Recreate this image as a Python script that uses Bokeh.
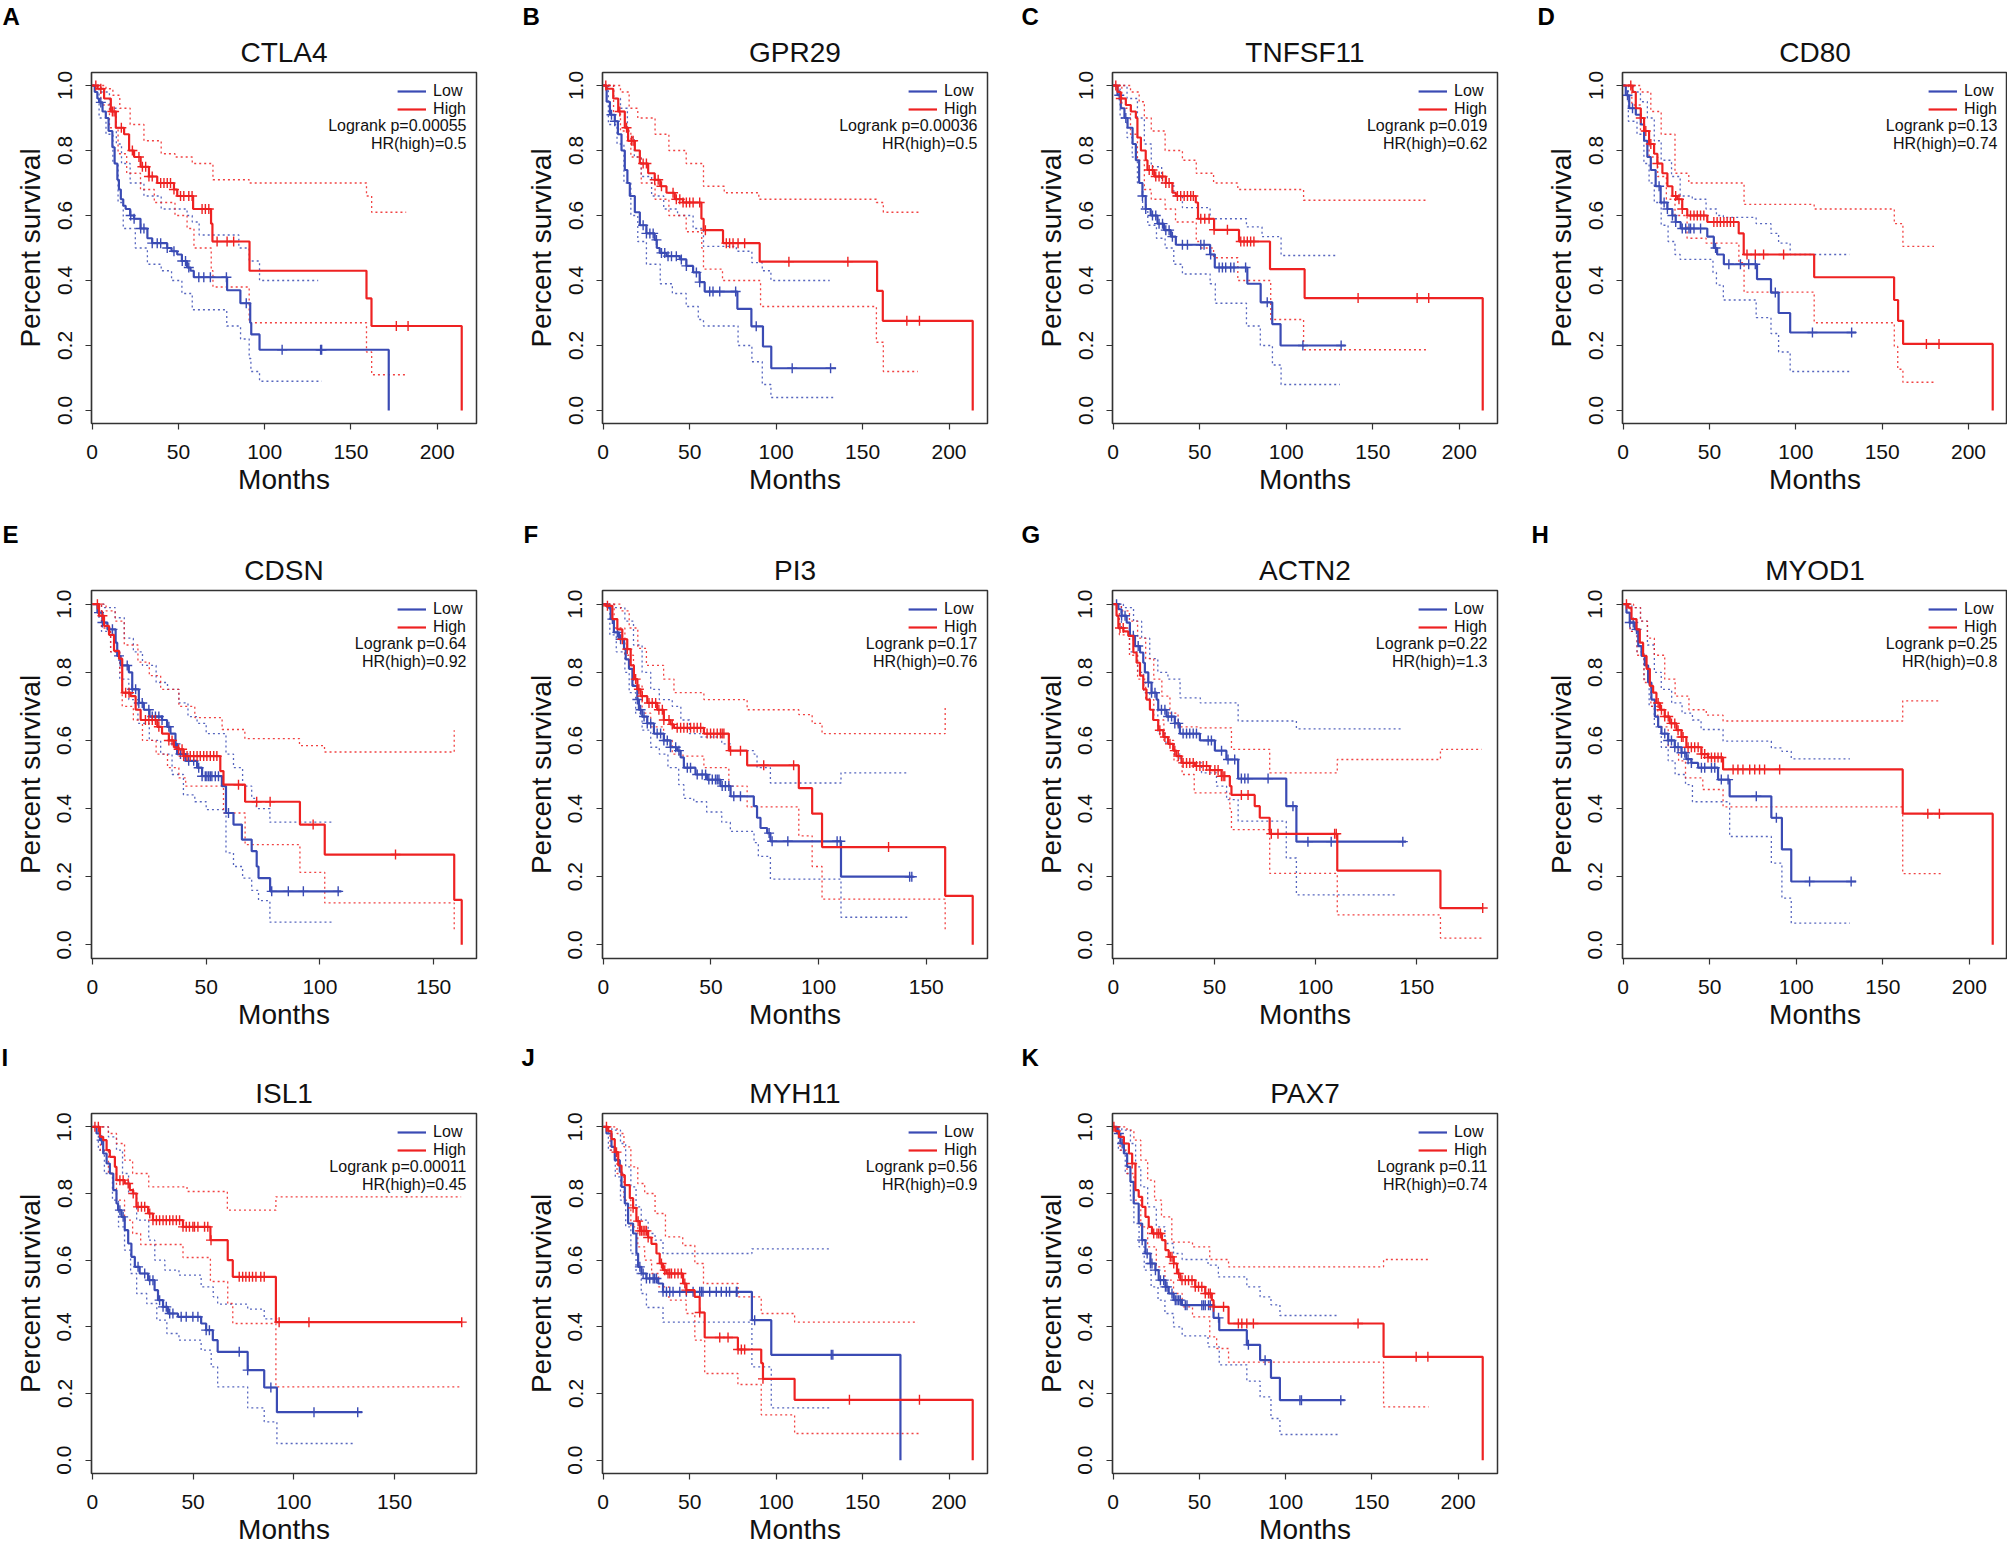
from bokeh.plotting import figure
from bokeh.layouts import column, row
from bokeh.models import Range1d, FixedTicker, PrintfTickFormatter, Label, Legend, LegendItem, Title
from bokeh.embed import file_html
from bokeh.resources import INLINE

# ---------------- data (months, survival) ----------------
LETTERS = ["A", "B", "C", "D", "E", "F", "G", "H", "I", "J", "K"]
GENES = ["CTLA4", "GPR29", "TNFSF11", "CD80", "CDSN", "PI3", "ACTN2", "MYOD1", "ISL1", "MYH11", "PAX7"]
LOGRANK_P = ["0.00055", "0.00036", "0.019", "0.13", "0.64", "0.17", "0.22", "0.25", "0.00011", "0.56", "0.11"]
HR_HIGH = ["0.5", "0.5", "0.62", "0.74", "0.92", "0.76", "1.3", "0.8", "0.45", "0.9", "0.74"]
X_TICKS = [0, 50, 100, 150, 200]
Y_TICKS = [0.0, 0.2, 0.4, 0.6, 0.8, 1.0]

# A CTLA4
CTLA4_low = [(0,1.0),(1.5,0.98),(3,0.96),(4,0.948),(6,0.92),(7.9,0.90),(9.5,0.86),(11.7,0.81),(13,0.76),(14.6,0.71),(15.5,0.68),(16.6,0.65),(18,0.63),(19.4,0.62),(22,0.60),(24.3,0.59),(28,0.56),(32,0.53),(34.8,0.515),(43.5,0.50),(46,0.49),(49.3,0.48),(52,0.46),(55,0.44),(57,0.43),(58.9,0.41),(78.2,0.37),(85.9,0.33),(91.6,0.27),(92.2,0.234),(97,0.187),(171.9,0.0)]
CTLA4_low_cens = [5, 22.3, 24.3, 28.1, 30, 34.8, 37.7, 39.7, 43.5, 47.4, 52.2, 54.1, 56, 61.8, 64.7, 68.5, 77.8, 89.3, 110.1, 132.4, 133]
CTLA4_high = [(0,1.0),(3.1,0.99),(6.9,0.96),(10.8,0.92),(13.7,0.87),(18.5,0.85),(21.4,0.80),(24.3,0.78),(28.1,0.75),(32.9,0.72),(37.7,0.70),(47.4,0.68),(49.3,0.66),(58.5,0.62),(68.9,0.575),(69.7,0.52),(91.2,0.43),(159,0.345),(161.9,0.26),(214.2,0.0)]
CTLA4_high_cens = [2.1, 5, 11.7, 12.7, 16.9, 23.3, 27.1, 29.1, 31, 32.9, 34.8, 39.7, 41.6, 43.5, 45.4, 47.4, 51.2, 53.1, 56, 57.9, 63.7, 65.6, 67.6, 72.4, 78.2, 82, 176.3, 183.1]
CTLA4_low_upper = [(0,1),(5,0.98),(10,0.93),(14,0.82),(17,0.76),(22,0.70),(30,0.66),(40,0.62),(55,0.60),(58,0.58),(62,0.54),(85,0.50),(91,0.46),(97,0.40),(131,0.40)]
CTLA4_low_lower = [(0,1),(4,0.90),(8,0.85),(12,0.76),(15,0.64),(18,0.56),(25,0.50),(32,0.45),(40,0.43),(46,0.40),(52,0.36),(58,0.31),(78,0.26),(86,0.22),(91,0.16),(92,0.12),(97,0.09),(133,0.09)]
CTLA4_high_upper = [(0,1),(8,0.99),(12,0.97),(16,0.93),(22,0.88),(30,0.83),(40,0.79),(48,0.78),(58,0.76),(70,0.71),(91,0.70),(159,0.66),(162,0.61),(182,0.61)]
CTLA4_high_lower = [(0,1),(5,0.94),(10,0.87),(15,0.79),(20,0.73),(28,0.68),(36,0.64),(48,0.60),(55,0.56),(59,0.50),(69,0.43),(70,0.38),(91,0.27),(159,0.18),(162,0.11),(183,0.11)]

# B GPR29
GPR29_low = [(0,1),(2,0.95),(3.9,0.91),(6.7,0.89),(8.5,0.85),(10.6,0.80),(12.5,0.74),(14,0.70),(15.4,0.66),(18.3,0.61),(21.2,0.57),(25,0.545),(29.8,0.525),(31,0.50),(32.7,0.485),(36.6,0.475),(44.3,0.465),(48.1,0.445),(52,0.425),(55.8,0.395),(58.7,0.366),(77.6,0.313),(85.7,0.259),(92.4,0.197),(97.2,0.13),(134.7,0.13)]
GPR29_low_cens = [4.8, 6.7, 23.1, 25, 27, 28.9, 30.8, 33.7, 35.6, 37.5, 39.5, 42.3, 45.2, 48.1, 53.9, 55.8, 61.6, 63.5, 67.4, 76.6, 88.5, 109.3, 131.5]
GPR29_high = [(0,1),(1.9,0.99),(5.8,0.96),(8.7,0.92),(12.5,0.87),(14.4,0.83),(18.3,0.80),(21.2,0.76),(26,0.73),(29.8,0.71),(33,0.69),(36.6,0.67),(41.4,0.65),(46.2,0.64),(56.8,0.59),(58.1,0.555),(69.3,0.515),(90.5,0.458),(158.4,0.368),(161.7,0.276),(213.7,0.0)]
GPR29_high_cens = [1.5, 9.6, 13.5, 16.4, 17.3, 23.1, 25, 29.8, 31.8, 33.7, 40.4, 42.3, 44.3, 46.2, 48.1, 50, 52, 55.8, 59.1, 71.2, 73.1, 75.1, 78, 81.8, 107.4, 141.5, 175.6, 182.9]
GPR29_low_upper = [(0,1),(6,0.96),(10,0.93),(14,0.84),(18,0.78),(22,0.72),(28,0.66),(35,0.62),(43,0.60),(52,0.56),(58,0.505),(77,0.49),(86,0.455),(92,0.43),(97,0.40),(131,0.40)]
GPR29_low_lower = [(0,1),(3,0.88),(8,0.82),(12,0.70),(16,0.60),(20,0.52),(25,0.45),(33,0.39),(40,0.36),(48,0.32),(55,0.28),(58,0.26),(78,0.20),(86,0.15),(92,0.08),(97,0.04),(133,0.04)]
GPR29_high_upper = [(0,1),(10,0.98),(15,0.93),(20,0.90),(30,0.85),(38,0.80),(48,0.76),(58,0.69),(70,0.67),(90,0.65),(158,0.64),(162,0.61),(184,0.61)]
GPR29_high_lower = [(0,1),(6,0.92),(10,0.86),(16,0.78),(22,0.70),(30,0.65),(38,0.60),(48,0.55),(57,0.50),(58,0.435),(69,0.40),(91,0.32),(158,0.21),(162,0.12),(182,0.12)]

# C TNFSF11
TNFSF11_low = [(0,1),(2.5,0.97),(4.4,0.93),(6.5,0.90),(8.3,0.87),(11.2,0.82),(13.1,0.77),(15,0.70),(16.9,0.66),(18.8,0.62),(21.7,0.60),(25.6,0.575),(29.4,0.555),(33.3,0.535),(36.2,0.51),(56,0.48),(58.7,0.44),(77.5,0.39),(85.2,0.333),(91.9,0.266),(96.7,0.20),(134.2,0.20)]
TNFSF11_low_cens = [3.5, 7.3, 16.9, 18.8, 22.7, 24.6, 26.5, 28.5, 30.4, 32.3, 34.2, 40, 42.9, 50.6, 52.5, 56.3, 61.2, 63.1, 65, 67.9, 69.8, 76.5, 89, 109.6, 131.7]
TNFSF11_high = [(0,1),(2.5,0.98),(4.4,0.96),(7.3,0.94),(10.2,0.92),(13.1,0.90),(14,0.84),(16,0.80),(18.8,0.77),(19.8,0.74),(23.7,0.72),(30.4,0.70),(34.2,0.67),(36.2,0.66),(47.7,0.64),(49,0.59),(58.3,0.556),(72.7,0.52),(90.6,0.435),(110.6,0.346),(213.5,0.0)]
TNFSF11_high_cens = [1.5, 4.4, 20.8, 22.7, 24.6, 26.5, 28.5, 30.4, 32.3, 37.1, 39, 41, 42.9, 44.8, 46.3, 50.6, 52.9, 55.4, 58.3, 66, 73.7, 75.6, 77.5, 79.4, 81.3, 141.5, 175.6, 182.3]
TNFSF11_low_upper = [(0,1),(8,0.96),(14,0.90),(18,0.82),(22,0.75),(28,0.70),(35,0.66),(40,0.624),(56,0.59),(77,0.565),(86,0.535),(97,0.477),(130,0.477)]
TNFSF11_low_lower = [(0,1),(4,0.90),(8,0.84),(11,0.78),(14,0.70),(17,0.62),(20,0.57),(25,0.53),(30,0.50),(35,0.45),(40,0.42),(56,0.39),(59,0.33),(77,0.26),(85,0.20),(92,0.14),(97,0.08),(131,0.08)]
TNFSF11_high_upper = [(0,1),(10,0.98),(15,0.95),(18,0.90),(22,0.86),(30,0.80),(40,0.77),(48,0.73),(58,0.70),(72,0.68),(110,0.647),(182,0.647)]
TNFSF11_high_lower = [(0,1),(5,0.93),(10,0.85),(14,0.77),(18,0.68),(22,0.65),(30,0.62),(36,0.58),(48,0.52),(50,0.50),(58,0.47),(72,0.40),(91,0.28),(110,0.187),(182,0.187)]

# D CD80
CD80_low = [(0,1),(1.5,0.97),(3.5,0.93),(7.3,0.91),(10.2,0.88),(12.1,0.83),(14,0.78),(16,0.74),(18.8,0.69),(21.7,0.64),(25.6,0.62),(28.5,0.60),(30.4,0.58),(33.3,0.56),(48.7,0.535),(52.5,0.50),(54.4,0.48),(58.3,0.45),(77.5,0.404),(85.6,0.363),(90,0.30),(96.7,0.24),(134.8,0.24)]
CD80_low_cens = [2.5, 5.4, 20.8, 23.7, 25.6, 28.5, 30.4, 34.2, 36.2, 38.1, 39, 41, 44.8, 53.5, 61.2, 67.9, 72.7, 76.5, 88.1, 109.6, 132.3]
CD80_high = [(0,1),(5.4,0.98),(7.3,0.93),(10.2,0.90),(12.1,0.86),(15,0.82),(17.9,0.79),(19.8,0.76),(22.7,0.73),(25.6,0.69),(28.5,0.66),(31.3,0.65),(34.2,0.62),(37.1,0.60),(48.7,0.58),(66.9,0.545),(69.8,0.48),(110.6,0.41),(156.9,0.34),(159.2,0.276),(162.1,0.205),(214,0.0)]
CD80_high_cens = [4.4, 10.2, 13.1, 16, 19.8, 30.4, 32.3, 34.2, 39, 41, 42.9, 44.8, 46.7, 52.5, 54.4, 56.3, 58.3, 60.2, 62.1, 64, 71.7, 76.5, 81.3, 92.9, 175.6, 182.9]
CD80_low_upper = [(0,1),(6,0.98),(10,0.95),(14,0.90),(18,0.83),(22,0.77),(28,0.72),(33,0.66),(40,0.65),(48,0.62),(54,0.60),(58,0.594),(77,0.575),(85.6,0.545),(90,0.515),(96.7,0.48),(131,0.48)]
CD80_low_lower = [(0,1),(3,0.89),(8,0.85),(12,0.76),(15,0.70),(18,0.64),(22,0.57),(26,0.52),(30,0.48),(33,0.465),(52,0.425),(54,0.386),(58,0.34),(77,0.286),(85.6,0.237),(90,0.18),(96.7,0.12),(131,0.12)]
CD80_high_upper = [(0,1),(10,0.98),(16,0.92),(22,0.85),(30,0.73),(38,0.70),(70,0.634),(110.6,0.62),(157,0.575),(162,0.505),(180,0.505)]
CD80_high_lower = [(0,1),(5,0.94),(10,0.86),(15,0.78),(20,0.72),(25,0.65),(30,0.60),(37,0.53),(48,0.515),(67,0.455),(70,0.364),(110.6,0.27),(157,0.197),(159,0.127),(162,0.087),(181,0.087)]

# E CDSN
CDSN_low = [(0,1),(2.2,0.975),(4.4,0.946),(6.6,0.926),(10.2,0.887),(10.9,0.848),(12.4,0.82),(16,0.80),(17.5,0.75),(20.4,0.71),(22.6,0.69),(25.1,0.67),(30.6,0.66),(32.8,0.64),(34.3,0.62),(36.5,0.59),(37.2,0.56),(40.9,0.54),(46,0.52),(48.2,0.495),(56.9,0.466),(58.7,0.387),(62,0.353),(65.7,0.309),(70,0.275),(72.2,0.23),(73,0.196),(78.1,0.157),(109.4,0.157)]
CDSN_low_cens = [2.9, 4.4, 8.8, 11.7, 15.3, 17.5, 19, 20.4, 21.9, 24.8, 26.3, 27.7, 29.2, 30.6, 33.6, 36.5, 38.7, 40.1, 42.3, 44.5, 46.7, 48.2, 49.6, 50.3, 51.1, 51.8, 52.5, 54, 55.4, 59.8, 78.8, 86.1, 92.7, 108]
CDSN_high = [(0,1),(2.9,0.966),(5.1,0.936),(7.3,0.91),(9.5,0.863),(11.7,0.84),(13.1,0.74),(16.8,0.73),(19,0.69),(21.2,0.66),(28.5,0.64),(30.6,0.62),(33.6,0.60),(35.8,0.58),(37.9,0.574),(40.1,0.554),(56.2,0.51),(57.6,0.47),(67.1,0.42),(91.2,0.353),(102.1,0.265),(159,0.132),(162.3,0.0)]
CDSN_high_cens = [2.2, 4.4, 14.6, 16.1, 23.3, 24.8, 26.3, 27.7, 29.2, 33.6, 35, 37.9, 39.4, 40.1, 41.6, 43, 44.5, 46, 47.4, 48.9, 50.3, 51.8, 53.3, 54.7, 64.2, 72.2, 78.1, 97, 133.2]
CDSN_low_upper = [(0,1),(5,0.99),(10,0.96),(14,0.90),(18,0.86),(22,0.82),(28,0.77),(33,0.75),(38,0.71),(42,0.67),(46,0.65),(50,0.62),(58.7,0.56),(62,0.52),(66,0.466),(70,0.43),(72,0.40),(78,0.36),(106,0.36)]
CDSN_low_lower = [(0,1),(4,0.92),(8,0.86),(12,0.78),(16,0.72),(20,0.65),(25,0.60),(30,0.56),(35,0.50),(40,0.44),(45,0.42),(50,0.397),(58.7,0.27),(62,0.23),(66,0.196),(70,0.16),(73,0.13),(78,0.067),(106,0.067)]
CDSN_high_upper = [(0,1),(6,0.98),(10,0.95),(14,0.88),(20,0.83),(25,0.79),(30,0.75),(38,0.70),(45,0.667),(57,0.632),(67,0.605),(91,0.585),(102,0.566),(159,0.63)]
CDSN_high_lower = [(0,1),(4,0.93),(8,0.86),(12,0.80),(13.1,0.70),(18,0.66),(22,0.60),(28,0.56),(33,0.52),(38,0.49),(41,0.466),(57.6,0.387),(67.1,0.294),(91.2,0.213),(102.1,0.123),(159,0.04)]

# F PI3
PI3_low = [(0,1),(1.9,0.99),(3.4,0.956),(4.9,0.917),(7.3,0.897),(9.6,0.868),(10.4,0.838),(11.9,0.81),(13.5,0.76),(15.8,0.72),(16.5,0.69),(18.1,0.67),(20.4,0.65),(23.5,0.62),(28.1,0.60),(31.2,0.58),(34.3,0.57),(35.9,0.55),(37.4,0.52),(42.8,0.50),(48.2,0.485),(54.4,0.466),(59.1,0.436),(69.9,0.407),(71.4,0.373),(73,0.343),(76.1,0.328),(77.6,0.304),(110.4,0.20),(144.1,0.20)]
PI3_low_cens = [4.2, 6.5, 8, 15.8, 17.3, 18.9, 20.4, 22, 25, 26.6, 28.1, 29.7, 31.2, 33.6, 35.1, 39, 40.5, 43.6, 45.9, 47.5, 49, 50.6, 52.1, 52.9, 53.7, 55.2, 56.7, 58.3, 60.6, 63.7, 77, 78.4, 85.7, 108.6, 110.1, 142.3, 143.3]
PI3_high = [(0,1),(1.1,0.995),(4.2,0.956),(6.5,0.926),(8.8,0.897),(11.1,0.868),(12.7,0.82),(14.2,0.78),(15.8,0.75),(17.3,0.73),(20.4,0.71),(25,0.69),(28.1,0.66),(31.2,0.647),(32.8,0.637),(46.7,0.62),(58.3,0.57),(66.8,0.527),(90.8,0.46),(97,0.385),(101.6,0.287),(158.8,0.144),(171.6,0.0)]
PI3_high_cens = [1.9, 8.8, 11.1, 15, 16.5, 18.1, 21.2, 22.7, 24.3, 25.8, 27.4, 28.1, 30.5, 32, 34.3, 35.9, 37.4, 39, 40.5, 42.1, 43.6, 45.2, 48.2, 49.8, 51.3, 52.9, 54.4, 55.2, 56, 59.1, 63.7, 74.5, 88.4, 132.5]
PI3_low_upper = [(0,1),(5,0.99),(10,0.95),(14,0.88),(18,0.80),(22,0.75),(26,0.72),(32,0.70),(36,0.66),(40,0.62),(45,0.61),(55,0.59),(59,0.57),(70,0.56),(71.4,0.52),(77.6,0.475),(110.4,0.505),(142,0.505)]
PI3_low_lower = [(0,1),(3,0.91),(6,0.86),(10,0.80),(12,0.74),(15,0.68),(18,0.63),(22,0.58),(26,0.56),(30,0.52),(35,0.47),(37.4,0.43),(42,0.42),(48,0.39),(55,0.36),(59,0.333),(70,0.30),(72,0.26),(77.6,0.193),(110.4,0.081),(142,0.081)]
PI3_high_upper = [(0,1),(8,0.98),(12,0.93),(16,0.87),(20,0.82),(28,0.78),(32.8,0.74),(46.7,0.72),(66.8,0.69),(90.8,0.676),(97,0.65),(101.6,0.62),(158.8,0.70)]
PI3_high_lower = [(0,1),(5,0.93),(10,0.85),(14,0.76),(18,0.68),(22,0.64),(28,0.60),(32,0.56),(37,0.554),(46.7,0.52),(58.3,0.466),(66.8,0.405),(90.8,0.32),(97,0.23),(101.6,0.134),(158.8,0.04)]

# G ACTN2
ACTN2_low = [(0,1),(2.5,0.985),(4.1,0.966),(6.6,0.946),(8.2,0.907),(10.7,0.877),(13.2,0.858),(14.8,0.828),(15.6,0.80),(17.3,0.77),(18.9,0.74),(21.4,0.72),(22.2,0.69),(26.3,0.67),(30.4,0.65),(32.9,0.62),(42.8,0.60),(50.2,0.57),(55.9,0.544),(61.7,0.488),(85.5,0.407),(90.5,0.303),(144.7,0.303)]
ACTN2_low_cens = [1.6, 4.1, 5.8, 9.9, 12.3, 17.3, 18.9, 20.6, 23.8, 25.5, 27.1, 28.8, 30.4, 32.1, 34.5, 36.2, 37.8, 39.5, 41.1, 46.9, 48.5, 53.5, 56.7, 60, 63.3, 65, 66.6, 76.5, 88.8, 96.2, 107.7, 143.1]
ACTN2_high = [(0,1),(1.6,0.966),(2.5,0.93),(5,0.92),(7.4,0.907),(9.9,0.858),(11.5,0.828),(13.2,0.79),(14.8,0.75),(16.4,0.72),(18.1,0.69),(19.7,0.66),(22.2,0.63),(24.7,0.61),(27.1,0.59),(29.6,0.57),(31.2,0.554),(33.7,0.534),(40.3,0.525),(47.7,0.513),(53.5,0.495),(57.6,0.466),(58.4,0.44),(69.9,0.407),(72.4,0.373),(77.3,0.326),(110.7,0.218),(161.7,0.108),(182.6,0.108)]
ACTN2_high_cens = [3.3, 4.9, 23, 25.5, 28, 30.4, 32.1, 34.5, 36.2, 37.8, 39.5, 41.1, 42.8, 44.4, 46.1, 47.7, 50.2, 51.8, 53.5, 54.3, 55.1, 63.3, 66.6, 78.1, 81.4, 109.4, 110.2, 182.6]
ACTN2_low_upper = [(0,1),(5,0.99),(10,0.95),(14,0.90),(18,0.84),(22,0.80),(27,0.78),(33,0.725),(43,0.71),(61.7,0.657),(90.5,0.634),(143,0.634)]
ACTN2_low_lower = [(0,1),(4,0.93),(8,0.86),(12,0.80),(15,0.74),(18,0.69),(22,0.62),(26,0.59),(30,0.56),(33,0.534),(43.6,0.505),(51,0.466),(56,0.426),(61.7,0.363),(85.5,0.255),(90.5,0.147),(140,0.147)]
ACTN2_high_upper = [(0,1),(4,0.98),(8,0.95),(12,0.90),(16,0.84),(20,0.78),(24,0.73),(28,0.68),(32,0.64),(42,0.637),(58.4,0.574),(77.3,0.505),(110.7,0.544),(161.7,0.574),(182,0.574)]
ACTN2_high_lower = [(0,1),(3,0.91),(8,0.85),(12,0.78),(16,0.72),(20,0.66),(25,0.60),(30,0.54),(34,0.50),(40,0.446),(57.6,0.40),(58.4,0.338),(77.3,0.21),(110.7,0.088),(161.7,0.02),(182,0.02)]

# H MYOD1
MYOD1_low = [(0,1),(1.9,0.975),(3.8,0.946),(6.7,0.926),(8.7,0.877),(10.6,0.848),(12.5,0.82),(14.4,0.77),(16.3,0.72),(18.3,0.67),(20.2,0.64),(22.1,0.62),(26,0.60),(29.8,0.58),(33.7,0.564),(36.5,0.545),(39.4,0.534),(43.3,0.52),(54.8,0.485),(61.5,0.436),(85.6,0.373),(91.7,0.28),(97.1,0.186),(134.6,0.186)]
MYOD1_low_cens = [3.8, 5.8, 7.7, 24, 26, 27.9, 29.8, 31.7, 33.7, 35.6, 37.5, 39.4, 45.2, 47.1, 51, 52.9, 56.7, 60.6, 76.9, 88.5, 107.7, 131.7]
MYOD1_high = [(0,1),(2.9,0.99),(4.8,0.956),(7.7,0.926),(9.6,0.887),(11.5,0.848),(13.5,0.81),(15.4,0.76),(17.3,0.74),(19.2,0.71),(21.2,0.69),(24,0.67),(26.9,0.65),(30.8,0.63),(33.7,0.61),(36.5,0.58),(45.2,0.56),(49,0.55),(57.7,0.515),(161.5,0.385),(213.5,0.0)]
MYOD1_high_cens = [1.9, 20.2, 22.1, 24, 26, 27.9, 29.8, 31.7, 33.7, 34.6, 37.5, 39.4, 41.3, 43.3, 45.2, 47.1, 49, 51, 52.9, 54.8, 56.7, 63.5, 66.3, 69.2, 73.1, 76, 78.8, 81.7, 90.4, 176, 182.7]
MYOD1_low_upper = [(0,1),(5,0.99),(10,0.95),(14,0.88),(18,0.80),(22,0.75),(28,0.71),(34,0.68),(40,0.66),(45,0.632),(57.7,0.598),(85.6,0.578),(91.7,0.568),(97.1,0.546),(131,0.546)]
MYOD1_low_lower = [(0,1),(4,0.92),(8,0.86),(12,0.78),(15,0.70),(18,0.64),(22,0.58),(26,0.54),(30,0.50),(36,0.47),(40,0.42),(61.5,0.318),(85.6,0.24),(91.7,0.137),(97.1,0.064),(131,0.064)]
MYOD1_high_upper = [(0,1),(6,0.99),(10,0.95),(14,0.90),(18,0.85),(24,0.78),(30,0.73),(38,0.69),(48,0.674),(57.7,0.657),(161.5,0.716),(182,0.716)]
MYOD1_high_lower = [(0,1),(4,0.92),(8,0.85),(12,0.77),(16,0.70),(20,0.64),(26,0.58),(32,0.54),(36,0.49),(46,0.456),(57.7,0.405),(161.5,0.209),(184,0.209)]

# I ISL1
ISL1_low = [(0,1),(2.1,0.98),(3.8,0.96),(5.4,0.92),(7.1,0.89),(8.7,0.86),(10.4,0.81),(12,0.77),(12.8,0.75),(14.5,0.73),(16.1,0.69),(17.8,0.65),(19.4,0.61),(21.1,0.58),(23.5,0.56),(27.7,0.54),(30.9,0.51),(32.6,0.48),(35.1,0.46),(37.5,0.44),(42.5,0.43),(54,0.41),(56.5,0.39),(59.8,0.36),(62.2,0.325),(77.1,0.27),(85.3,0.218),(91.6,0.144),(133.9,0.144)]
ISL1_low_cens = [4.6, 13.7, 15.3, 22.7, 26, 28.5, 30.1, 33.4, 35.1, 36.7, 38.4, 40, 44.1, 46.6, 49.9, 52.4, 56.5, 58.1, 72.9, 77.1, 88.6, 110, 131.7]
ISL1_high = [(0,1),(3.8,0.97),(5.4,0.96),(7.1,0.93),(8.7,0.91),(11.2,0.88),(12,0.84),(16.1,0.83),(18.6,0.81),(20.3,0.80),(21.9,0.76),(27.7,0.74),(30.1,0.72),(45,0.70),(58.6,0.66),(67.2,0.60),(69.7,0.55),(91.1,0.414),(183.3,0.414)]
ISL1_high_cens = [1.3, 3, 13.7, 15.3, 17.8, 20.3, 22.7, 24.4, 26, 28.5, 30.1, 31.8, 33.4, 35.1, 36.7, 38.4, 40, 41.7, 43.3, 45, 46.6, 48.2, 49.9, 50.7, 52.4, 55.7, 57.3, 58.9, 72.9, 74.6, 76.2, 77.9, 79.5, 81.2, 83.6, 85.3, 92.7, 107.5, 183.3]
ISL1_low_upper = [(0,1),(8,0.97),(12,0.93),(15,0.86),(18,0.80),(22,0.72),(28,0.66),(31,0.60),(36,0.57),(43,0.555),(54,0.52),(60,0.49),(62.2,0.468),(77.1,0.453),(85.3,0.424),(91.6,0.414),(130,0.414)]
ISL1_low_lower = [(0,1),(3,0.93),(6,0.86),(10,0.78),(13,0.70),(16,0.63),(19,0.56),(22,0.50),(27,0.47),(32,0.42),(37,0.38),(43,0.36),(54,0.33),(59,0.28),(62.2,0.22),(77.1,0.157),(85.3,0.115),(91.6,0.05),(130,0.05)]
ISL1_high_upper = [(0,1),(8,0.98),(12,0.95),(16,0.90),(20,0.86),(28,0.82),(47,0.806),(67,0.75),(91.1,0.79),(183,0.79)]
ISL1_high_lower = [(0,1),(4,0.93),(8,0.86),(12,0.78),(16,0.72),(20,0.68),(24,0.647),(45,0.608),(58.6,0.536),(67.2,0.47),(69.7,0.41),(91.1,0.22),(183,0.22)]

# J MYH11
MYH11_low = [(0,1),(1.9,0.98),(4.8,0.94),(6.7,0.90),(9.6,0.865),(10.6,0.82),(12.5,0.77),(14.4,0.71),(17.3,0.68),(19.2,0.62),(20.2,0.58),(22.1,0.56),(25,0.545),(31.8,0.53),(34.6,0.505),(86,0.42),(97.2,0.316),(171.9,0.0)]
MYH11_low_cens = [21.2, 23.1, 25, 26.9, 28.9, 29.8, 30.8, 34.6, 36.6, 38.5, 40.4, 44.3, 48.1, 52, 55.8, 56.8, 57.7, 61.6, 65.4, 68.3, 71.2, 73.1, 77, 77.4, 87.6, 131.9, 132.8]
MYH11_high = [(0,1),(2.9,0.987),(4.8,0.963),(6.7,0.924),(8.7,0.884),(10.6,0.855),(12.5,0.825),(15.4,0.786),(17.3,0.757),(19.2,0.717),(21.2,0.688),(26,0.668),(27.9,0.649),(30.8,0.62),(32.7,0.59),(34.6,0.57),(36.6,0.56),(46.2,0.53),(48.1,0.51),(52.9,0.49),(55.8,0.443),(58.7,0.368),(77.9,0.332),(91.4,0.291),(92.4,0.244),(110.7,0.181),(213.7,0.0)]
MYH11_high_cens = [1.9, 7.7, 17.3, 20.2, 21.2, 22.1, 23.1, 24.1, 25, 26, 33.7, 35.6, 37.5, 38.5, 39.5, 41.4, 43.3, 45.2, 47.2, 48.1, 55.8, 67.4, 72.2, 78, 79.9, 81.8, 92.4, 142.4, 182.9]
MYH11_low_upper = [(0,1),(5,0.99),(10,0.95),(13,0.88),(16,0.82),(19,0.76),(22,0.72),(26,0.68),(30,0.66),(34.6,0.62),(86,0.634),(131,0.634)]
MYH11_low_lower = [(0,1),(3,0.93),(7,0.85),(10,0.78),(13,0.70),(16,0.62),(19,0.56),(22,0.50),(25,0.458),(34.6,0.414),(86,0.28),(97.2,0.157),(131,0.157)]
MYH11_high_upper = [(0,1),(8,0.98),(12,0.94),(16,0.88),(20,0.83),(24,0.80),(30,0.74),(36,0.67),(46,0.644),(53,0.59),(58,0.53),(78,0.49),(91.4,0.44),(110.7,0.414),(182,0.414)]
MYH11_high_lower = [(0,1),(4,0.93),(8,0.86),(12,0.78),(16,0.70),(20,0.64),(24,0.60),(28,0.56),(32,0.52),(38,0.48),(48,0.44),(53,0.36),(58.7,0.26),(77.9,0.227),(91.4,0.136),(110.7,0.08),(183,0.08)]

# K PAX7
PAX7_low = [(0,1),(2.3,0.98),(4.2,0.95),(6.2,0.92),(8.1,0.88),(10,0.835),(11.9,0.77),(14.8,0.71),(16.8,0.66),(18.7,0.62),(21.6,0.59),(24.5,0.57),(26.4,0.54),(30.3,0.52),(32.2,0.50),(35.1,0.48),(39.9,0.465),(58.2,0.427),(61.5,0.39),(77.5,0.346),(85.2,0.30),(91.5,0.247),(96.7,0.18),(134.3,0.18)]
PAX7_low_cens = [3.3, 5.2, 16.8, 19.7, 21.6, 22.5, 24.5, 27.4, 29.3, 30.3, 31.2, 34.1, 36, 37, 38, 38.9, 41.8, 42.8, 51.4, 52.4, 53.4, 55.3, 56.3, 61.1, 78.4, 88.1, 108.3, 109.2, 132]
PAX7_high = [(0,1),(1.3,0.987),(3.3,0.97),(6.2,0.95),(9.1,0.92),(11,0.89),(12.9,0.81),(14.8,0.79),(16.8,0.76),(18.7,0.73),(20.6,0.70),(22.5,0.68),(28.3,0.66),(30.3,0.63),(32.2,0.61),(35.1,0.59),(37,0.56),(38.9,0.54),(47.6,0.52),(53.4,0.50),(57.2,0.48),(58.2,0.46),(66.9,0.41),(156.8,0.31),(214.3,0.0)]
PAX7_high_cens = [0.4, 11, 23.5, 25.4, 26.4, 27.4, 33.1, 34.1, 35.1, 38, 39.9, 41.8, 43.7, 45.7, 47.6, 49.5, 51.4, 53.4, 55.3, 56.3, 58.2, 64, 72.6, 74.6, 77.5, 81.3, 142, 175.7, 182.5]
PAX7_low_upper = [(0,1),(5,0.99),(10,0.95),(13,0.88),(16,0.82),(20,0.76),(25,0.70),(30,0.65),(35,0.62),(40,0.602),(55,0.585),(61,0.55),(77.5,0.52),(85.2,0.49),(91.5,0.466),(96.7,0.434),(131,0.434)]
PAX7_low_lower = [(0,1),(3,0.93),(7,0.86),(10,0.78),(12,0.71),(15,0.64),(18,0.57),(22,0.52),(26,0.48),(30,0.44),(35,0.40),(40,0.373),(55,0.34),(61.5,0.286),(77.5,0.237),(85.2,0.19),(91.5,0.125),(96.7,0.077),(131,0.077)]
PAX7_high_upper = [(0,1),(8,0.99),(12,0.96),(16,0.90),(20,0.84),(24,0.78),(28,0.73),(34,0.654),(46,0.64),(56,0.602),(66.9,0.58),(156.8,0.602),(183,0.602)]
PAX7_high_lower = [(0,1),(4,0.93),(8,0.86),(12,0.78),(16,0.70),(20,0.64),(25,0.58),(30,0.54),(35,0.50),(40,0.46),(46,0.43),(56,0.37),(60,0.335),(66.9,0.294),(156.8,0.16),(183,0.16)]

# ---------------- styling / layout ----------------
FONT = "Liberation Sans"
BLUE = "#3A4BB4"
RED = "#EE2222"
AXC = "#333333"
FRAME_W = 385
COL_W = [510, 510, 510, 477]
COL_LEFT = [91, 92, 92, 92]
ROW_H = [518, 523, 506]
TOP_B = 10
BOTTOM_B = [95, 83, 73]
LETTER_DX = [[-89, -80, -91, -85], [-89, -79, -91, -91], [-90, -81, -91, 0]]


def series(name, kind):
    return globals()[f"{name}_{kind}"]


def surv_at(curve, t):
    s = curve[0][1]
    for ti, si in curve:
        if ti <= t:
            s = si
        else:
            break
    return s


def make_panel(i, c, r):
    gene = GENES[i]
    low = series(gene, "low")
    high = series(gene, "high")
    tmax = max(low[-1][0], high[-1][0])
    xr_end = tmax * 1.04
    w = COL_W[c]
    h = ROW_H[r]
    p = figure(width=w, height=h, output_backend="svg", toolbar_location=None,
               x_range=Range1d(-0.4, xr_end), y_range=Range1d(-0.04, 1.04),
               min_border_left=COL_LEFT[c], min_border_right=w - COL_LEFT[c] - FRAME_W,
               min_border_top=TOP_B, min_border_bottom=BOTTOM_B[r])
    p.grid.visible = False
    p.outline_line_color = AXC
    p.outline_line_width = 1.5
    p.background_fill_color = "white"
    p.border_fill_color = "white"

    # panel letter (outermost title) and gene name (next to the frame)
    p.title.text = LETTERS[i]
    p.title.align = "left"
    p.title.offset = LETTER_DX[r][c]
    p.title.standoff = 0
    p.title.text_font = FONT
    p.title.text_font_size = "24px"
    p.title.text_font_style = "bold"
    p.title.text_color = "#000000"
    p.add_layout(Title(text=gene, align="center", standoff=10,
                       text_font=FONT, text_font_size="28px", text_font_style="normal",
                       text_color="#111111"), "above")

    for ax in (p.xaxis[0], p.yaxis[0]):
        ax.axis_line_color = AXC
        ax.axis_line_width = 1.2
        ax.major_tick_line_color = AXC
        ax.major_tick_line_width = 1.2
        ax.major_tick_out = 6
        ax.major_tick_in = 0
        ax.minor_tick_line_color = None
        ax.major_label_text_font = FONT
        ax.major_label_text_font_size = "21px"
        ax.major_label_text_color = "#111111"
        ax.axis_label_text_font = FONT
        ax.axis_label_text_font_size = "28px"
        ax.axis_label_text_font_style = "normal"
        ax.axis_label_text_color = "#111111"
    p.xaxis.major_label_standoff = 15
    p.xaxis.axis_label_standoff = 2
    p.yaxis.major_label_standoff = 14
    p.yaxis.axis_label_standoff = 9
    p.xaxis.ticker = FixedTicker(ticks=X_TICKS)
    p.yaxis.ticker = FixedTicker(ticks=Y_TICKS)
    p.yaxis.formatter = PrintfTickFormatter(format="%.1f")
    p.yaxis.major_label_orientation = "vertical"
    p.xaxis.axis_label = "Months"
    p.yaxis.axis_label = "Percent survival"

    # confidence bands (dotted)
    for kind, col in (("low_upper", BLUE), ("low_lower", BLUE), ("high_upper", RED), ("high_lower", RED)):
        pts = series(gene, kind)
        p.step([q[0] for q in pts], [q[1] for q in pts], mode="after",
               line_color=col, line_width=1.3, line_dash="2 3", line_alpha=0.85)

    renderers = {}
    for kind, col in (("low", BLUE), ("high", RED)):
        pts = series(gene, kind)
        renderers[kind] = p.step([q[0] for q in pts], [q[1] for q in pts], mode="after",
                                 line_color=col, line_width=2.2)
        cens = series(gene, kind + "_cens")
        p.scatter(cens, [surv_at(pts, t) for t in cens], marker="cross", size=10,
                  line_color=col, line_width=1.4)

    legend = Legend(items=[LegendItem(label="Low", renderers=[renderers["low"]]),
                           LegendItem(label="High", renderers=[renderers["high"]])],
                    location="top_right", border_line_color=None, background_fill_alpha=0,
                    label_text_font=FONT, label_text_font_size="16px", label_text_color="#111111",
                    glyph_width=29, glyph_height=16, label_height=16, label_standoff=7,
                    spacing=0, padding=0, margin=10)
    p.add_layout(legend)

    p.add_layout(Label(x=xr_end, y=1.04, x_offset=-10, y_offset=-53,
                       text=f"Logrank p={LOGRANK_P[i]}", text_align="right", text_baseline="middle",
                       text_font=FONT, text_font_size="16px", text_color="#111111"))
    p.add_layout(Label(x=xr_end, y=1.04, x_offset=-10, y_offset=-71,
                       text=f"HR(high)={HR_HIGH[i]}", text_align="right", text_baseline="middle",
                       text_font=FONT, text_font_size="16px", text_color="#111111"))
    return p


rows = []
idx = 0
for r, ncol in enumerate([4, 4, 3]):
    figs = []
    for c in range(ncol):
        figs.append(make_panel(idx, c, r))
        idx += 1
    rows.append(row(*figs, spacing=0))

layout = column(*rows, spacing=0)
open("out.html", "w").write(file_html(layout, INLINE))
